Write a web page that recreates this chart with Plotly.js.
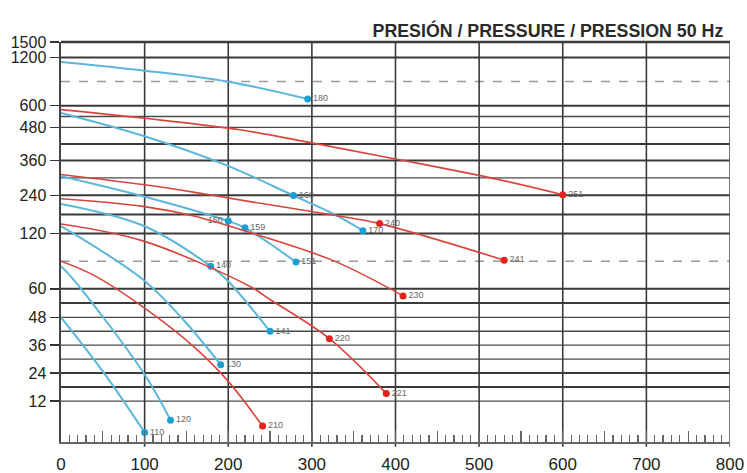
<!DOCTYPE html>
<html><head><meta charset="utf-8">
<script src="https://cdn.plot.ly/plotly-3.0.1.min.js"></script>
<style>html,body{margin:0;padding:0;background:#fff}#chart{width:747px;height:473px}</style>
</head><body><div id="chart"></div>
<script>
// ---------------- DATA ----------------
const chartTitle = 'PRESIÓN / PRESSURE / PRESSION 50 Hz';
const xLabels = [0,100,200,300,400,500,600,700,800];
const yLabels = [12,24,36,48,60,120,240,360,480,600,1200,1500];
const gridHeavy = [1200,600,420,360,240,180,120,60,54,24,18];
const gridLight = [540,480,300,48,42,36,30,12];
const gridDashed = [900,90];

// blue curves (flow, pressure)
const b180X = [0,100,200,295];             const b180Y = [1143,1035,898,683];
const b160X = [0,100,196,278,327,361];     const b160Y = [560,448,346,239,180,129];
const b150X = [0,98,200,220,281];          const b150Y = [306,237,159,138,89];
const b140X = [0,98,179,198,250];          const b140Y = [213,145,84.5,70,42];
const b130X = [0,98,146,191];              const b130Y = [143,70,47.1,27.6];
const b120X = [0,15,100,131];              const b120Y = [84.5,70,23.4,6.4];
const b110X = [0,50,100];                  const b110Y = [48,24.7,2.8];
// red curves
const r251X = [0,100,214,300,400,524,600]; const r251Y = [578,530,471,424,366,294,242];
const r240X = [0,98,160,226,327,381,530];  const r240Y = [312,277,250,220,177,151,91];
const r230X = [0,98,160,226,327,409];      const r230Y = [229,205,174,123,90,57];
const r220X = [0,98,226,250,321,389];      const r220Y = [150,112,62.5,55.5,38.8,15.2];
const r210X = [0,39,100,158,198,241];      const r210Y = [90,74.8,51.9,35.6,21.3,4.7];

// marked pump points: index into curve, name
const b180Marks = [3], b180Names = ['180'];
const b160Marks = [3,5], b160Names = ['160','170'];
const b150Marks = [2,3,4], b150Names = ['150','159','151'];
const b140Marks = [2,4], b140Names = ['140','141'];
const b130Marks = [3], b130Names = ['130'];
const b120Marks = [3], b120Names = ['120'];
const b110Marks = [2], b110Names = ['110'];
const r251Marks = [6], r251Names = ['251'];
const r240Marks = [5,6], r240Names = ['240','241'];
const r230Marks = [5], r230Names = ['230'];
const r220Marks = [4,5], r220Names = ['220','221'];
const r210Marks = [5], r210Names = ['210'];

// ---------------- SCALE (non-uniform pressure axis) ----------------
const scaleVals = [0,12,24,36,48,60,120,240,360,480,600,1200,1500];
const scaleUnits = [0,41,69,97,124.7,153.4,208.7,247,281.7,315,336.7,385,400.4];
function ymap(v){
  for(let i=1;i<scaleVals.length;i++){
    if(v<=scaleVals[i]){
      const t=(v-scaleVals[i-1])/(scaleVals[i]-scaleVals[i-1]);
      return scaleUnits[i-1]+t*(scaleUnits[i]-scaleUnits[i-1]);
    }
  }
  return scaleUnits[scaleUnits.length-1];
}

// ---------------- STYLE ----------------
const BLUE_LINE='#5cb6da', BLUE_DOT='#1c9fd3', RED_LINE='#d9453d', RED_DOT='#e2231c';
const curves = [
  [b180X,b180Y,b180Marks,b180Names,'b'],
  [b160X,b160Y,b160Marks,b160Names,'b'],
  [b150X,b150Y,b150Marks,b150Names,'b'],
  [b140X,b140Y,b140Marks,b140Names,'b'],
  [b130X,b130Y,b130Marks,b130Names,'b'],
  [b120X,b120Y,b120Marks,b120Names,'b'],
  [b110X,b110Y,b110Marks,b110Names,'b'],
  [r251X,r251Y,r251Marks,r251Names,'r'],
  [r240X,r240Y,r240Marks,r240Names,'r'],
  [r230X,r230Y,r230Marks,r230Names,'r'],
  [r220X,r220Y,r220Marks,r220Names,'r'],
  [r210X,r210Y,r210Marks,r210Names,'r']
];
const leftLabels = ['150'];

const traces=[];
curves.forEach(c=>{
  const [xs,ys,marks,names,k]=c;
  const blue = k==='b';
  traces.push({type:'scatter',mode:'lines',x:xs,y:ys.map(ymap),
    line:{color:blue?BLUE_LINE:RED_LINE,width:blue?2:1.6,shape:'spline',smoothing:1},
    hoverinfo:'skip',showlegend:false});
  traces.push({type:'scatter',mode:'markers+text',
    x:marks.map(i=>xs[i]),y:marks.map(i=>ymap(ys[i])),text:names,
    textposition:names.map(n=>leftLabels.includes(n)?'middle left':'middle right'),
    textfont:{family:'Liberation Sans, Arial, sans-serif',size:9,color:'#666'},
    marker:{color:blue?BLUE_DOT:RED_DOT,size:7},cliponaxis:false,
    hoverinfo:'skip',showlegend:false});
});

const shapes=[];
gridHeavy.forEach(v=>shapes.push({type:'line',xref:'paper',x0:0,x1:1,yref:'y',y0:ymap(v),y1:ymap(v),line:{color:'#3a3a3a',width:2},layer:'below'}));
gridLight.forEach(v=>shapes.push({type:'line',xref:'paper',x0:0,x1:1,yref:'y',y0:ymap(v),y1:ymap(v),line:{color:'#4a4a4a',width:1.3},layer:'below'}));
gridDashed.forEach(v=>shapes.push({type:'line',xref:'paper',x0:0,x1:1,yref:'y',y0:ymap(v),y1:ymap(v),line:{color:'#9a9a9a',width:1.5,dash:'dash'},layer:'below'}));
xLabels.slice(1,-1).forEach(v=>shapes.push({type:'line',xref:'x',x0:v,x1:v,yref:'paper',y0:-0.012,y1:1,line:{color:'#3a3a3a',width:1.6},layer:'below'}));
shapes.push({type:'line',xref:'x',x0:800,x1:800,yref:'paper',y0:-0.012,y1:1,line:{color:'#555',width:1.6},layer:'below'});
shapes.push({type:'line',xref:'paper',x0:0,x1:1,yref:'paper',y0:1,y1:1,line:{color:'#3a3a3a',width:2.5},layer:'below'});

const xTicks=[]; const xText=[];
for(let v=0; v<=800; v+=50){ xTicks.push(v); xText.push(xLabels.includes(v)?String(v):''); }

const layout={
  width:747,height:473,
  margin:{l:61,r:17,t:42,b:31,pad:0},
  paper_bgcolor:'#fff',plot_bgcolor:'#fff',
  font:{family:'Liberation Sans, Arial, sans-serif',color:'#222'},
  title:{text:chartTitle,xref:'paper',x:0.99,xanchor:'right',yref:'container',y:1-31/473,yanchor:'middle',
    font:{family:'Liberation Sans, Arial, sans-serif',size:17.8,color:'#2a2a2a',weight:'bold'}},
  xaxis:{range:[0,800],showgrid:false,zeroline:false,showline:true,linecolor:'#666',linewidth:1.5,
    tickmode:'array',tickvals:xTicks,ticktext:xText,ticks:'inside',ticklen:11,tickwidth:1.3,tickcolor:'#666',
    ticklabelstandoff:6,tickfont:{size:17,color:'#222'},
    minor:{tickmode:'linear',tick0:0,dtick:10,ticks:'inside',ticklen:7,tickwidth:1.2,tickcolor:'#666',showgrid:false}},
  yaxis:{range:[0,ymap(1500)],showgrid:false,zeroline:false,showline:true,linecolor:'#444',linewidth:2.5,
    tickmode:'array',tickvals:yLabels.map(ymap),ticktext:yLabels.map(String),ticks:'outside',ticklen:9,tickwidth:1.5,tickcolor:'#333',
    tickfont:{size:16,color:'#222'}},
  shapes:shapes,
  showlegend:false
};
Plotly.newPlot('chart',traces,layout,{staticPlot:true,displayModeBar:false});
</script></body></html>
